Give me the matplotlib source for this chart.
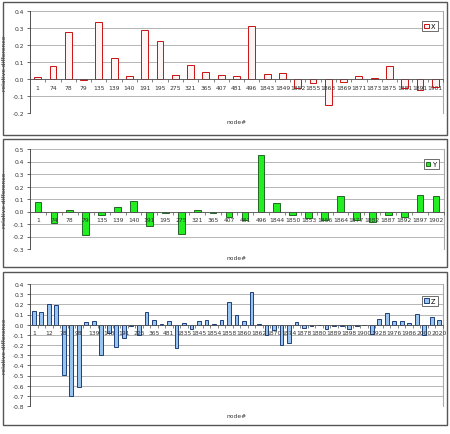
import numpy as np
import matplotlib.pyplot as plt
from matplotlib.patches import Rectangle

# --- data ---
x_nodes = ['1', '74', '78', '79', '135', '139', '140', '191', '195', '275', '321', '365', '407', '481',
           '496', '1843', '1849', '1852', '1855', '1863', '1869', '1871', '1873', '1875', '1881', '1891', '1901']
x_vals = [0.01, 0.075, 0.277, -0.005, 0.338, 0.123, 0.017, 0.29, 0.226, 0.022, 0.085, 0.04, 0.024, 0.017,
          0.313, 0.03, 0.036, -0.05, -0.022, -0.15, -0.015, 0.02, 0.004, 0.075, -0.055, -0.065, -0.048]

y_nodes = ['1', '74', '78', '79', '135', '139', '140', '191', '195', '275', '321', '365', '407', '481',
           '496', '1844', '1850', '1853', '1856', '1864', '1877', '1882', '1887', '1892', '1897', '1902']
y_vals = [0.08, -0.09, 0.013, -0.19, -0.03, 0.04, 0.088, -0.117, -0.01, -0.178, 0.013, -0.01, -0.043, -0.064,
          0.456, 0.072, -0.03, -0.05, -0.064, 0.128, -0.064, -0.08, -0.027, -0.045, 0.136, 0.128]

# only every other node label is shown on the Z chart
z_labels = ['1', '12', '78', '98', '139', '148', '191', '225', '365', '481', '1835', '1845', '1854', '1858',
            '1860', '1862', '1870', '1874', '1878', '1880', '1889', '1898', '1900', '1928', '1976', '1986',
            '2000', '2020']
z_vals = [0.13, 0.12, 0.20, 0.19, -0.50, -0.70, -0.61, 0.03, 0.04, -0.30,
          -0.08, -0.22, -0.13, -0.01, -0.10, 0.125, 0.046, 0.01, 0.035, -0.23,
          0.02, -0.045, 0.033, 0.043, 0.01, 0.046, 0.225, 0.095, 0.04, 0.32,
          0.01, -0.10, -0.05, -0.20, -0.18, 0.03, -0.03, -0.01, -0.005, -0.04,
          -0.01, -0.01, -0.04, -0.01, -0.003, -0.095, 0.06, 0.115, 0.036, 0.036,
          0.016, 0.105, -0.10, 0.075, 0.05]

W, H = 450, 435
fig = plt.figure(figsize=(W / 100, H / 100), dpi=100)
fs = 4.3


def px(x0, y0, x1, y1):
    # pixel box (top-left origin) -> figure fraction
    return [x0 / W, 1 - y1 / H, (x1 - x0) / W, (y1 - y0) / H]


def panel(box, plot, vals, labels, ylim, step, face, edge, name, width, label_every=1):
    r = px(*box)
    fig.patches.append(Rectangle((r[0], r[1]), r[2], r[3], transform=fig.transFigure,
                                 fill=False, edgecolor='#555555', lw=1.0))
    ax = fig.add_axes(px(*plot))
    n = len(vals)
    pos = np.arange(n)
    yt = np.arange(ylim[0], ylim[1] + step / 2, step)
    # gridlines below the bars, axis (tick labels) above them like Excel
    for v in yt:
        ax.axhline(v, color='#aaaaaa', lw=0.6, zorder=0)
    ax.bar(pos, vals, width=width, color=face, edgecolor=edge, lw=0.7, label=name, zorder=2)
    ax.set_axisbelow(False)
    ax.set_xlim(-0.5, n - 0.5)
    ax.set_ylim(*ylim)
    ax.set_yticks(yt)
    ax.set_yticklabels(['%.1f' % v if abs(v) > 1e-9 else '0.0' for v in yt], fontsize=fs, color='#333333')
    ax.spines['bottom'].set_position(('data', 0))
    ax.spines['bottom'].set_color('#555555')
    ax.spines['bottom'].set_linewidth(0.6)
    ax.spines['left'].set_color('#333333')
    ax.spines['left'].set_linewidth(0.6)
    ax.spines['top'].set_visible(False)
    ax.spines['right'].set_color('#aaaaaa')
    ax.set_xticks(pos[::label_every])
    ax.set_xticklabels(labels, fontsize=fs, color='#333333')
    ax.set_xticks(np.arange(n + 1) - 0.5, minor=True)
    ax.tick_params(axis='x', which='major', length=0, pad=4)
    ax.tick_params(axis='x', which='minor', length=2, width=0.5, color='#555555')
    ax.tick_params(axis='y', length=2, width=0.5, pad=2, color='#333333')
    ax.set_ylabel('relative difference', fontsize=fs, color='#333333', labelpad=4)
    ax.text(0.5, -0.06, 'node#', transform=ax.transAxes, ha='center', va='top',
            fontsize=fs, color='#333333')
    leg = ax.legend(loc='upper right', bbox_to_anchor=(0.995, 0.93), fontsize=fs + 0.5,
                    handlelength=0.7, handleheight=0.7, handletextpad=0.3, borderpad=0.3,
                    fancybox=False, edgecolor='#555555', framealpha=1)
    leg.get_frame().set_linewidth(0.6)
    leg.set_zorder(5)
    return ax


panel((3, 3, 447, 136), (30, 12, 443, 114), x_vals, x_nodes, (-0.2, 0.4), 0.1,
      '#fff4f4', '#cc1111', 'X', 0.45)
panel((3, 140, 447, 268), (30, 150, 444, 250), y_vals, y_nodes, (-0.3, 0.5), 0.1,
      '#22ee22', '#226622', 'Y', 0.42)
panel((3, 273, 447, 426), (30, 285, 443, 407), z_vals, z_labels, (-0.8, 0.4), 0.1,
      '#99c4f0', '#1f3f7a', 'Z', 0.5, label_every=2)

fig.savefig('out.png', dpi=100)
